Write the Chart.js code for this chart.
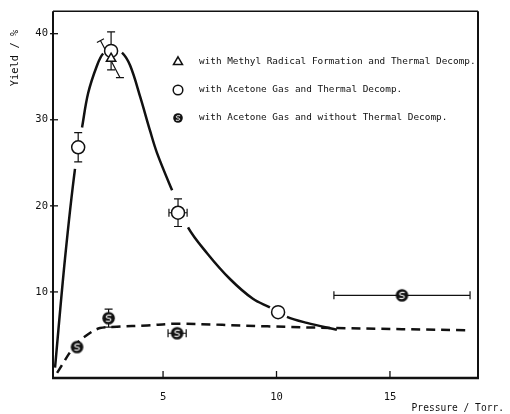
<!DOCTYPE html>
<html>
<head>
<meta charset="utf-8">
<script src="https://cdn.jsdelivr.net/npm/chart.js@4.4.1/dist/chart.umd.min.js"></script>
<style>
  html, body { margin: 0; padding: 0; background: #fff; }
  #wrap { width: 510px; height: 414px; }
</style>
</head>
<body>
<div id="wrap"><canvas id="c" width="510" height="414"></canvas></div>
<script>
// ---- axis ticks ----
const xTicks = [5, 10, 15];
const yTicks = [10, 20, 30, 40];

// ---- acetone gas + thermal decomposition (open circles) ----
const openX    = [1.26, 2.71, 5.66, 10.07];
const openY    = [26.8, 38.0, 19.2, 7.65];
const openYErr = [1.7, 2.2, 1.6, 0];
const openXErr = [0, 0, 0.4, 0];

// ---- methyl radical formation + thermal decomposition (triangle) ----
const triX = [2.71];
const triY = [37.1];
// slanted error bar end points
const triErrUpX = [2.24], triErrUpY = [39.2];
const triErrLoX = [3.1],  triErrLoY = [34.9];

// ---- acetone gas without thermal decomposition (filled circles) ----
const filledX    = [1.21, 2.6, 5.62, 15.53];
const filledY    = [3.6, 6.95, 5.2, 9.6];
const filledYErr = [0, 1.05, 0, 0];
const filledXErr = [0, 0, 0.4, 3.0];

// ---- guide curves ----
const solidCurveX = [0.24, 0.68, 1.12, 1.43, 1.7, 2.09, 2.36, 2.75, 3.19, 3.55, 4.0, 4.43, 4.74, 5.4, 6.1, 6.94, 7.95, 8.96, 9.71, 10.46, 11.34, 12.66];
const solidCurveY = [1.2, 13.9, 24.3, 29.1, 33.1, 36.3, 37.7, 38.3, 37.8, 36.3, 32.6, 28.7, 26.1, 21.8, 17.5, 14.5, 11.5, 9.2, 8.2, 7.1, 6.4, 5.6];
// x ranges where the solid curve is broken around a marker
const solidBreakFrom = [1.12, 2.36, 5.4, 9.71];
const solidBreakTo   = [1.43, 3.19, 6.1, 10.46];
const dashCurveX  = [0.33, 1.12, 1.65, 2.22, 2.97, 4.3, 5.62, 9.6, 12.66, 18.4];
const dashCurveY  = [0.6, 3.8, 5.0, 5.8, 5.95, 6.1, 6.3, 6.0, 5.8, 5.55];

const legendLabels = [
  'with Methyl Radical Formation and Thermal Decomp.',
  'with Acetone Gas and Thermal Decomp.',
  'with Acetone Gas and without Thermal Decomp.'
];
const xTitle = 'Pressure / Torr.';
const yTitle = 'Yield / %';

const INK = '#111';
const MONO = '"DejaVu Sans Mono", "Liberation Mono", monospace';

function pts(xs, ys) { return xs.map((x, i) => ({ x: x, y: ys[i] })); }

function inBreak(x0, x1) {
  const mid = (x0 + x1) / 2;
  return solidBreakFrom.some((f, i) => mid > f && mid < solidBreakTo[i]);
}

// dark dot with a white squiggle inside
function makeHatchedDot(r) {
  const s = Math.ceil(r * 2 + 2);
  const c = document.createElement('canvas');
  c.width = s; c.height = s;
  const g = c.getContext('2d');
  const m = s / 2;
  g.fillStyle = INK;
  g.beginPath(); g.arc(m, m, r, 0, Math.PI * 2); g.fill();
  g.strokeStyle = '#fff';
  g.lineWidth = Math.max(1, r * 0.17);
  g.beginPath();
  g.moveTo(m + r * 0.45, m - r * 0.45);
  g.bezierCurveTo(m - r * 0.55, m - r * 0.65, m - r * 0.55, m, m, m);
  g.bezierCurveTo(m + r * 0.55, m, m + r * 0.55, m + r * 0.65, m - r * 0.45, m + r * 0.45);
  g.stroke();
  return c;
}
const dotBig = makeHatchedDot(6.3);
const dotSmall = makeHatchedDot(4.8);

const decor = {
  id: 'decor',
  beforeDatasetsDraw(chart) {
    const { ctx, scales: { x, y } } = chart;
    ctx.save();
    ctx.strokeStyle = INK;
    ctx.lineWidth = 1.2;
    const cap = 4;
    function vbar(cx, cy, e) {
      if (!e) return;
      const px = x.getPixelForValue(cx);
      const p1 = y.getPixelForValue(cy + e), p2 = y.getPixelForValue(cy - e);
      ctx.beginPath();
      ctx.moveTo(px, p1); ctx.lineTo(px, p2);
      ctx.moveTo(px - cap, p1); ctx.lineTo(px + cap, p1);
      ctx.moveTo(px - cap, p2); ctx.lineTo(px + cap, p2);
      ctx.stroke();
    }
    function hbar(cx, cy, e) {
      if (!e) return;
      const py = y.getPixelForValue(cy);
      const p1 = x.getPixelForValue(cx - e), p2 = x.getPixelForValue(cx + e);
      ctx.beginPath();
      ctx.moveTo(p1, py); ctx.lineTo(p2, py);
      ctx.moveTo(p1, py - cap); ctx.lineTo(p1, py + cap);
      ctx.moveTo(p2, py - cap); ctx.lineTo(p2, py + cap);
      ctx.stroke();
    }
    openX.forEach((v, i) => { vbar(v, openY[i], openYErr[i]); hbar(v, openY[i], openXErr[i]); });
    filledX.forEach((v, i) => { vbar(v, filledY[i], filledYErr[i]); hbar(v, filledY[i], filledXErr[i]); });
    // slanted bar through the triangle
    triX.forEach((v, i) => {
      const ax = x.getPixelForValue(triErrUpX[i]), ay = y.getPixelForValue(triErrUpY[i]);
      const bx = x.getPixelForValue(triErrLoX[i]), by = y.getPixelForValue(triErrLoY[i]);
      const len = Math.hypot(bx - ax, by - ay);
      const nx = -(by - ay) / len * cap, ny = (bx - ax) / len * cap;
      ctx.beginPath();
      ctx.moveTo(ax, ay); ctx.lineTo(bx, by);
      ctx.moveTo(ax - nx, ay - ny); ctx.lineTo(ax + nx, ay + ny);
      ctx.moveTo(bx - cap, by); ctx.lineTo(bx + cap, by);
      ctx.stroke();
    });
    ctx.restore();
  },
  afterDraw(chart) {
    const { ctx, chartArea: a, scales: { x, y } } = chart;
    ctx.save();
    ctx.strokeStyle = INK;
    // frame
    ctx.lineWidth = 2;
    ctx.beginPath(); ctx.moveTo(a.left, a.top); ctx.lineTo(a.left, a.bottom); ctx.stroke();
    ctx.lineWidth = 2.3;
    ctx.beginPath(); ctx.moveTo(a.left - 1, a.bottom); ctx.lineTo(a.right + 1, a.bottom); ctx.stroke();
    ctx.lineWidth = 2;
    ctx.beginPath(); ctx.moveTo(a.right, a.top); ctx.lineTo(a.right, a.bottom); ctx.stroke();
    ctx.lineWidth = 1.5;
    ctx.beginPath(); ctx.moveTo(a.left, a.top); ctx.lineTo(a.right, a.top); ctx.stroke();
    // inward tick marks
    ctx.lineWidth = 1.3;
    yTicks.forEach(v => {
      const py = y.getPixelForValue(v);
      ctx.beginPath(); ctx.moveTo(a.left - 3, py); ctx.lineTo(a.left + 5, py); ctx.stroke();
    });
    xTicks.forEach(v => {
      const px = x.getPixelForValue(v);
      ctx.beginPath(); ctx.moveTo(px, a.bottom); ctx.lineTo(px, a.bottom - 7); ctx.stroke();
    });
    // legend
    const lx = 178, tx = 199, rows = [62, 90, 118];
    ctx.lineWidth = 1.5;
    ctx.fillStyle = '#fff';
    const tr = 5.2;
    ctx.beginPath();
    ctx.moveTo(lx, rows[0] - tr);
    ctx.lineTo(lx + tr * 0.866, rows[0] + tr * 0.5);
    ctx.lineTo(lx - tr * 0.866, rows[0] + tr * 0.5);
    ctx.closePath(); ctx.fill(); ctx.stroke();
    ctx.beginPath(); ctx.arc(lx, rows[1], 4.8, 0, Math.PI * 2); ctx.fill(); ctx.stroke();
    ctx.drawImage(dotSmall, lx - dotSmall.width / 2, rows[2] - dotSmall.height / 2);
    ctx.fillStyle = INK;
    ctx.font = '9.4px ' + MONO;
    ctx.textBaseline = 'middle';
    ctx.textAlign = 'left';
    legendLabels.forEach((t, i) => ctx.fillText(t, tx, rows[i]));
    // axis titles
    ctx.font = '9.6px ' + MONO;
    ctx.textAlign = 'right';
    ctx.fillText(xTitle, 504, 408);
    ctx.save();
    ctx.translate(15, 58);
    ctx.rotate(-Math.PI / 2);
    ctx.textAlign = 'center';
    ctx.font = '10.4px ' + MONO;
    ctx.fillText(yTitle, 0, 0);
    ctx.restore();
    ctx.restore();
  }
};

new Chart(document.getElementById('c'), {
  type: 'line',
  data: {
    datasets: [
      {
        label: legendLabels[0],
        data: pts(triX, triY),
        showLine: false,
        pointStyle: 'triangle',
        pointRadius: 5.4,
        pointBorderWidth: 1.5,
        pointBorderColor: INK,
        pointBackgroundColor: '#fff',
        order: 0
      },
      {
        label: legendLabels[1],
        data: pts(openX, openY),
        showLine: false,
        pointStyle: 'circle',
        pointRadius: 6.5,
        pointBorderWidth: 1.5,
        pointBorderColor: INK,
        pointBackgroundColor: '#fff',
        order: 1
      },
      {
        label: legendLabels[2],
        data: pts(filledX, filledY),
        showLine: false,
        pointStyle: dotBig,
        pointRadius: 6.3,
        order: 1
      },
      {
        label: 'solid',
        data: pts(solidCurveX, solidCurveY),
        borderColor: INK,
        borderWidth: 2.5,
        pointRadius: 0,
        tension: 0.35,
        fill: false,
        segment: {
          borderColor: c => inBreak(c.p0.parsed.x, c.p1.parsed.x) ? 'rgba(0,0,0,0)' : INK
        },
        order: 3
      },
      {
        label: 'dashed',
        data: pts(dashCurveX, dashCurveY),
        borderColor: INK,
        borderWidth: 2.5,
        borderDash: [9, 6],
        pointRadius: 0,
        tension: 0.35,
        fill: false,
        order: 3
      }
    ]
  },
  options: {
    responsive: false,
    animation: false,
    events: [],
    layout: { padding: { top: 10, right: 32, left: 0, bottom: 0 } },
    plugins: { legend: { display: false }, tooltip: { enabled: false } },
    scales: {
      x: {
        type: 'linear',
        min: 0.15,
        max: 18.88,
        grid: { display: false, drawTicks: false },
        border: { display: false },
        afterBuildTicks: s => { s.ticks = xTicks.map(v => ({ value: v })); },
        afterFit: s => { s.height = 36; },
        ticks: { color: INK, padding: 13, maxRotation: 0, font: { family: MONO, size: 10.5 }, callback: v => String(v) }
      },
      y: {
        type: 'linear',
        min: 0,
        max: 42.6,
        grid: { display: false, drawTicks: false },
        border: { display: false },
        afterBuildTicks: s => { s.ticks = yTicks.map(v => ({ value: v })); },
        afterFit: s => { s.width = 53; },
        ticks: { color: INK, padding: 5, font: { family: MONO, size: 10.5 }, callback: v => String(v) }
      }
    }
  },
  plugins: [decor]
});
</script>
</body>
</html>
